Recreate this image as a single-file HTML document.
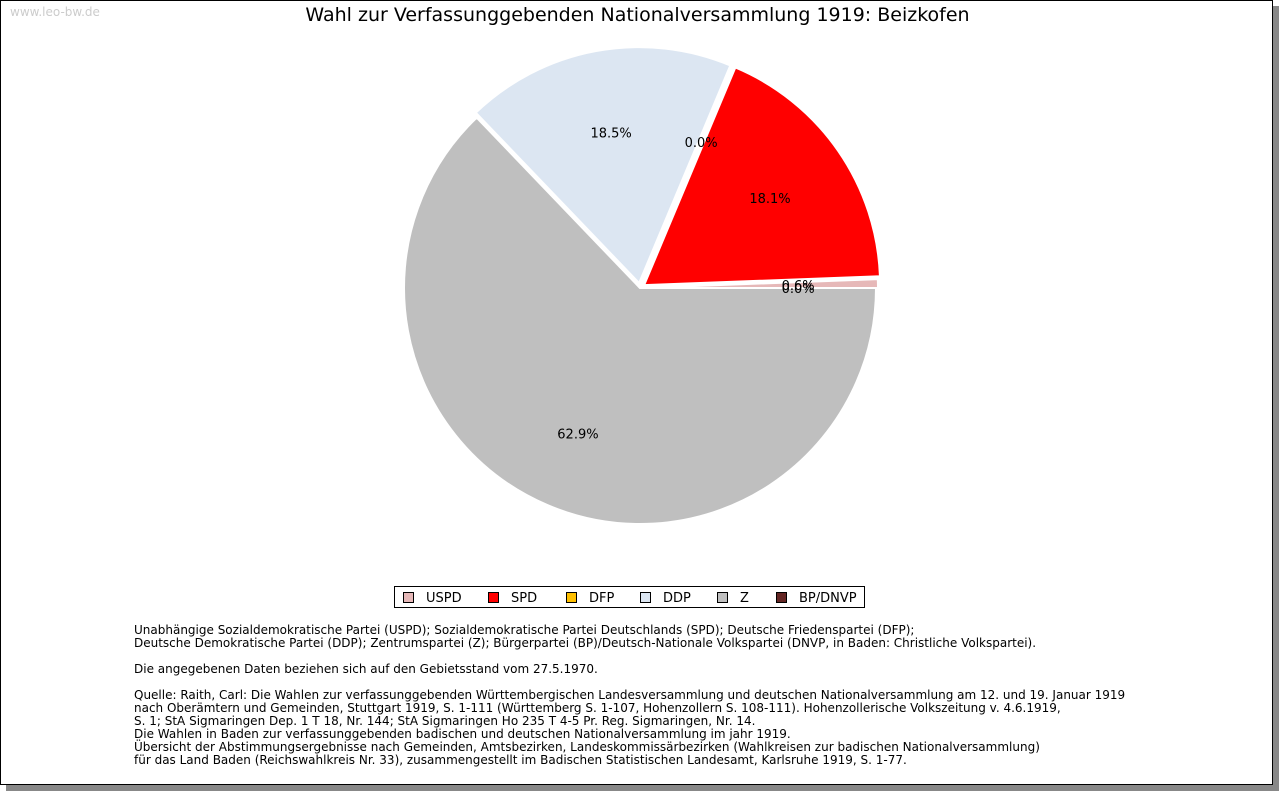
<!DOCTYPE html>
<html><head><meta charset="utf-8"><style>
body{margin:0;background:#fff;font-family:"DejaVu Sans","Liberation Sans",sans-serif;}
#frame{position:absolute;left:0;top:0;width:1271px;height:783px;border:1px solid #000;background:#fff;box-shadow:6px 6px 0 #888;}
.wm{position:absolute;left:9px;top:4px;font-size:12px;color:#ccc;}
.title{position:absolute;left:0;width:1273px;top:3px;text-align:center;font-size:19px;color:#000;}
.notes{position:absolute;left:133px;top:623px;font-size:12px;line-height:13px;color:#000;white-space:pre;}
</style></head><body>
<div id="frame">
<div class="wm">www.leo-bw.de</div>
<div class="title">Wahl zur Verfassunggebenden Nationalversammlung 1919: Beizkofen</div>
<svg id="pie" width="1280" height="791" style="position:absolute;left:-1px;top:-1px"></svg>
<svg width="1280" height="791" style="position:absolute;left:-1px;top:-1px">
<rect x="394.5" y="586.5" width="470" height="21" fill="#fff" stroke="#000"/>
<g id="leg" font-size="13" font-family="DejaVu Sans, Liberation Sans, sans-serif"></g>
</svg>
<div class="notes">Unabhängige Sozialdemokratische Partei (USPD); Sozialdemokratische Partei Deutschlands (SPD); Deutsche Friedenspartei (DFP);
Deutsche Demokratische Partei (DDP); Zentrumspartei (Z); Bürgerpartei (BP)/Deutsch-Nationale Volkspartei (DNVP, in Baden: Christliche Volkspartei).

Die angegebenen Daten beziehen sich auf den Gebietsstand vom 27.5.1970.

Quelle: Raith, Carl: Die Wahlen zur verfassunggebenden Württembergischen Landesversammlung und deutschen Nationalversammlung am 12. und 19. Januar 1919
nach Oberämtern und Gemeinden, Stuttgart 1919, S. 1-111 (Württemberg S. 1-107, Hohenzollern S. 108-111). Hohenzollerische Volkszeitung v. 4.6.1919,
S. 1; StA Sigmaringen Dep. 1 T 18, Nr. 144; StA Sigmaringen Ho 235 T 4-5 Pr. Reg. Sigmaringen, Nr. 14.
Die Wahlen in Baden zur verfassunggebenden badischen und deutschen Nationalversammlung im jahr 1919.
Übersicht der Abstimmungsergebnisse nach Gemeinden, Amtsbezirken, Landeskommissärbezirken (Wahlkreisen zur badischen Nationalversammlung)
für das Land Baden (Reichswahlkreis Nr. 33), zusammengestellt im Badischen Statistischen Landesamt, Karlsruhe 1919, S. 1-77.</div>
</div>
<script>
const categories=["USPD","SPD","DFP","DDP","Z","BP/DNVP"];
const values=[0.6,18.1,0.0,18.5,62.9,0.0];
const labels=["0.6%","18.1%","0.0%","18.5%","62.9%","0.0%"];
const colors=["#e6b8b8","#ff0000","#ffc000","#dce6f2","#bfbfbf","#632523"];
const NS="http://www.w3.org/2000/svg";
const svg=document.getElementById('pie');
const cx=640,cy=288,r=236,total=values.reduce((a,b)=>a+b,0);
let acc=0;
const labs=[];
values.forEach((v,i)=>{
  const a0=acc/total*2*Math.PI,a1=(acc+v)/total*2*Math.PI;acc+=v;
  const mid=(a0+a1)/2;
  const off=i===4?0:(i===0?2:5);
  const ox=cx+off*Math.cos(mid),oy=cy-off*Math.sin(mid);
  if(v>0){
    const p=document.createElementNS(NS,'path');
    const x0=ox+r*Math.cos(a0),y0=oy-r*Math.sin(a0),x1=ox+r*Math.cos(a1),y1=oy-r*Math.sin(a1);
    const large=(a1-a0)>Math.PI?1:0;
    p.setAttribute('d',`M${ox},${oy} L${x0},${y0} A${r},${r} 0 ${large} 0 ${x1},${y1} Z`);
    p.setAttribute('fill',colors[i]);p.setAttribute('stroke','#fff');p.setAttribute('stroke-width','2');
    
    
    svg.appendChild(p);
  }
  labs.push([mid,i]);
});
labs.forEach(([mid,i])=>{
  const t=document.createElementNS(NS,'text');
  t.setAttribute('x',cx+0.67*r*Math.cos(mid));t.setAttribute('y',cy-0.67*r*Math.sin(mid)+5);
  t.setAttribute('text-anchor','middle');t.setAttribute('font-size','13');
  t.setAttribute('font-family','DejaVu Sans, Liberation Sans, sans-serif');
  t.textContent=labels[i];
  
  
  svg.appendChild(t);
});
const leg=document.getElementById('leg');
const xs=[403,488,566,640,717,776];
categories.forEach((c,i)=>{
  const g=document.createElementNS(NS,'g');
  
  
  const x=xs[i];
  const rc=document.createElementNS(NS,'rect');
  rc.setAttribute('x',x+0.5);rc.setAttribute('y',592.5);rc.setAttribute('width',10);rc.setAttribute('height',10);
  rc.setAttribute('fill',colors[i]);rc.setAttribute('stroke','#000');
  const t=document.createElementNS(NS,'text');
  t.setAttribute('x',x+23);t.setAttribute('y',602);t.textContent=c;
  g.appendChild(rc);g.appendChild(t);leg.appendChild(g);
});
</script>
</body></html>
